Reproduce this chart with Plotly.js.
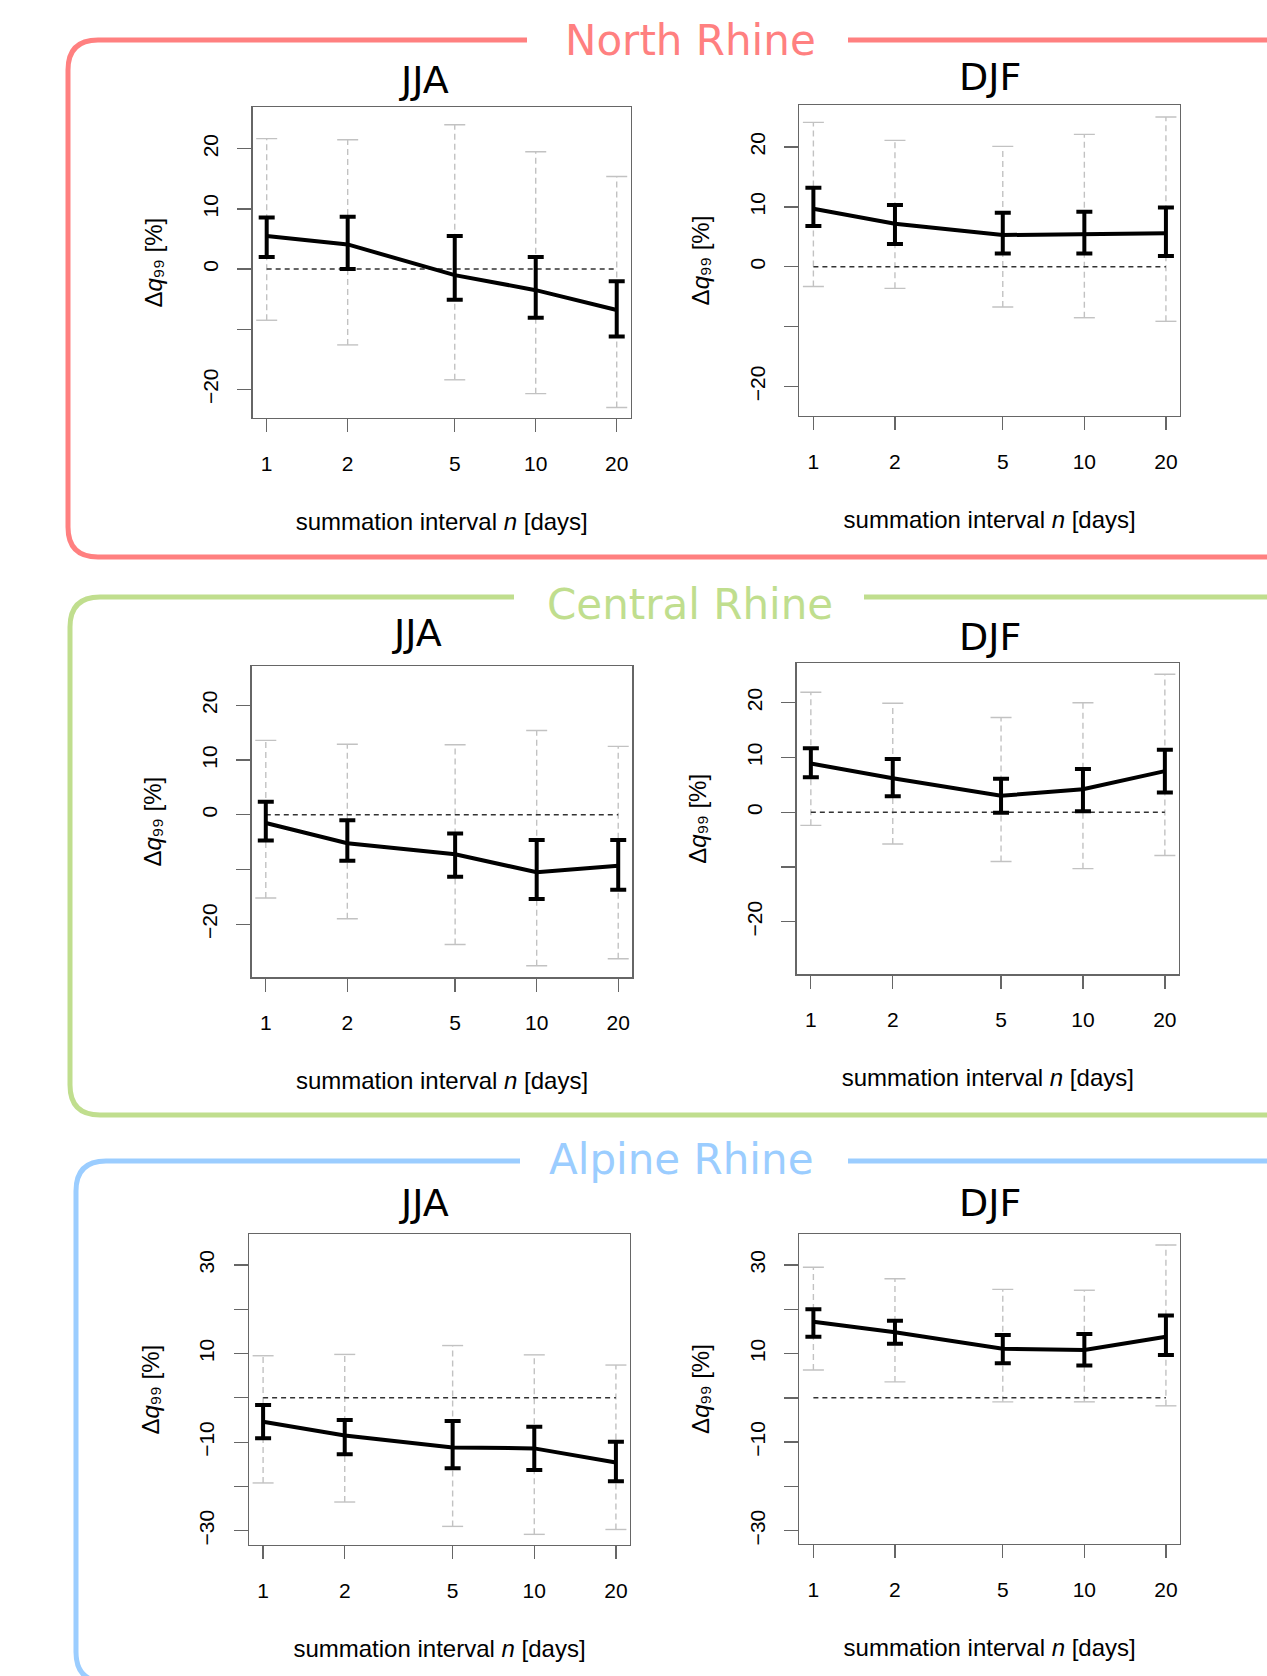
<!DOCTYPE html>
<html><head><meta charset="utf-8">
<script src="https://cdn.plot.ly/plotly-3.0.1.min.js"></script>
<style>html,body{margin:0;padding:0;background:#fff}</style>
</head><body><div id="chart" style="width:1267px;height:1676px"></div>
<script>
// ---------------- data ----------------
const intervals = [1, 2, 5, 10, 20];
const intervalLabels = ['1', '2', '5', '10', '20'];
const regionNames = ['North Rhine', 'Central Rhine', 'Alpine Rhine'];
const seasonNames = ['JJA', 'DJF'];
const yTitle = 'Δ<i>q</i>₉₉ [%]';
const xTitle = 'summation interval <i>n</i> [days]';

// North Rhine JJA
const northJJA_mean = [5.5, 4.1, -1.0, -3.5, -6.8];
const northJJA_lo = [2.0, 0.0, -5.1, -8.1, -11.2];
const northJJA_hi = [8.6, 8.7, 5.5, 2.0, -2.0];
const northJJA_outerLo = [-8.5, -12.6, -18.4, -20.7, -23.0];
const northJJA_outerHi = [21.7, 21.5, 24.0, 19.5, 15.4];
// North Rhine DJF
const northDJF_mean = [9.7, 7.2, 5.3, 5.4, 5.6];
const northDJF_lo = [6.8, 3.8, 2.2, 2.2, 1.8];
const northDJF_hi = [13.2, 10.3, 9.0, 9.2, 9.9];
const northDJF_outerLo = [-3.3, -3.6, -6.7, -8.5, -9.1];
const northDJF_outerHi = [24.1, 21.1, 20.1, 22.1, 25.0];
// Central Rhine JJA
const centralJJA_mean = [-1.5, -5.2, -7.2, -10.5, -9.3];
const centralJJA_lo = [-4.7, -8.4, -11.3, -15.4, -13.7];
const centralJJA_hi = [2.4, -1.0, -3.4, -4.6, -4.6];
const centralJJA_outerLo = [-15.2, -19.0, -23.7, -27.6, -26.3];
const centralJJA_outerHi = [13.6, 12.9, 12.8, 15.4, 12.5];
// Central Rhine DJF
const centralDJF_mean = [8.9, 6.2, 3.0, 4.2, 7.5];
const centralDJF_lo = [6.4, 2.9, -0.1, 0.2, 3.6];
const centralDJF_hi = [11.7, 9.7, 6.1, 7.9, 11.4];
const centralDJF_outerLo = [-2.4, -5.8, -9.0, -10.3, -7.9];
const centralDJF_outerHi = [21.9, 19.9, 17.3, 20.0, 25.2];
// Alpine Rhine JJA
const alpineJJA_mean = [-5.4, -8.5, -11.2, -11.4, -14.6];
const alpineJJA_lo = [-9.1, -12.7, -15.9, -16.3, -18.8];
const alpineJJA_hi = [-1.6, -5.0, -5.2, -6.5, -9.9];
const alpineJJA_outerLo = [-19.2, -23.5, -29.0, -30.8, -29.7];
const alpineJJA_outerHi = [9.5, 9.8, 11.8, 9.7, 7.4];
// Alpine Rhine DJF
const alpineDJF_mean = [17.2, 14.8, 11.1, 10.8, 13.8];
const alpineDJF_lo = [13.8, 12.2, 7.8, 7.3, 9.7];
const alpineDJF_hi = [20.0, 17.4, 14.2, 14.4, 18.6];
const alpineDJF_outerLo = [6.3, 3.6, -0.9, -0.9, -1.8];
const alpineDJF_outerHi = [29.5, 26.9, 24.5, 24.3, 34.5];

// y-axis ticks (labelled and unlabelled)
const yLabelled20 = [-20, 0, 10, 20];
const yLabelText20 = ['−20', '0', '10', '20'];
const yUnlabelled20 = [-10];
const yLabelled30 = [-30, -10, 10, 30];
const yLabelText30 = ['−30', '−10', '10', '30'];
const yUnlabelled30 = [-20, 0, 20];

// ---------------- layout helpers ----------------
const W = 1267, H = 1676;
const px = x => x / W;
const py = y => 1 - y / H;

const panels = [
  {mean: northJJA_mean, lo: northJJA_lo, hi: northJJA_hi, olo: northJJA_outerLo, ohi: northJJA_outerHi,
   box: [252.7, 630.7, 107.3, 418], yr: [-24.75, 26.9], tv: yLabelled20, tt: yLabelText20, tm: yUnlabelled20, title: seasonNames[0], tpos: [424, 80]},
  {mean: northDJF_mean, lo: northDJF_lo, hi: northDJF_hi, olo: northDJF_outerLo, ohi: northDJF_outerHi,
   box: [799.3, 1180, 105, 416], yr: [-24.9, 27.0], tv: yLabelled20, tt: yLabelText20, tm: yUnlabelled20, title: seasonNames[1], tpos: [990, 77]},
  {mean: centralJJA_mean, lo: centralJJA_lo, hi: centralJJA_hi, olo: centralJJA_outerLo, ohi: centralJJA_outerHi,
   box: [251.7, 632.3, 666, 977.3], yr: [-29.7, 27.2], tv: yLabelled20, tt: yLabelText20, tm: yUnlabelled20, title: seasonNames[0], tpos: [417, 633]},
  {mean: centralDJF_mean, lo: centralDJF_lo, hi: centralDJF_hi, olo: centralDJF_outerLo, ohi: centralDJF_outerHi,
   box: [796.7, 1179, 663.3, 974.3], yr: [-29.6, 27.2], tv: yLabelled20, tt: yLabelText20, tm: yUnlabelled20, title: seasonNames[1], tpos: [990, 637]},
  {mean: alpineJJA_mean, lo: alpineJJA_lo, hi: alpineJJA_hi, olo: alpineJJA_outerLo, ohi: alpineJJA_outerHi,
   box: [249, 630, 1234.3, 1545], yr: [-33.2, 36.9], tv: yLabelled30, tt: yLabelText30, tm: yUnlabelled30, title: seasonNames[0], tpos: [424, 1203]},
  {mean: alpineDJF_mean, lo: alpineDJF_lo, hi: alpineDJF_hi, olo: alpineDJF_outerLo, ohi: alpineDJF_outerHi,
   box: [799.3, 1180, 1234, 1544], yr: [-33.0, 37.0], tv: yLabelled30, tt: yLabelText30, tm: yUnlabelled30, title: seasonNames[1], tpos: [990, 1203]}
];

const tickFont = {family: 'Liberation Sans, Arial, sans-serif', size: 21, color: '#000'};
const labelFont = {family: 'Liberation Sans, Arial, sans-serif', size: 24, color: '#000'};
const axisColor = '#666';
const data = [];
const layout = {
  width: W, height: H,
  margin: {l: 0, r: 0, t: 0, b: 0},
  paper_bgcolor: '#fff', plot_bgcolor: '#fff',
  showlegend: false,
  annotations: [], shapes: []
};

panels.forEach((p, i) => {
  const n = i + 1;
  const xa = 'x' + (n === 1 ? '' : n), ya = 'y' + (n === 1 ? '' : n);
  const xk = 'xaxis' + (n === 1 ? '' : n), yk = 'yaxis' + (n === 1 ? '' : n);
  const [L, R, T, B] = p.box;

  // grey dashed outer ranges
  const gx = [], gy = [];
  intervals.forEach((x, j) => { gx.push(x, x, null); gy.push(p.olo[j], p.ohi[j], null); });
  data.push({type: 'scatter', x: gx, y: gy, xaxis: xa, yaxis: ya, mode: 'lines+markers',
    line: {color: '#c2c2c2', width: 1.4, dash: '6px,4px'},
    marker: {symbol: 'line-ew', size: 15, color: '#c2c2c2', line: {color: '#c2c2c2', width: 1.4}},
    hoverinfo: 'skip'});
  // zero reference line
  data.push({type: 'scatter', x: [intervals[0], intervals[intervals.length - 1]], y: [0, 0],
    xaxis: xa, yaxis: ya, mode: 'lines', line: {color: '#333', width: 1.5, dash: '5px,4px'}, hoverinfo: 'skip'});
  // mean line with error bars
  data.push({type: 'scatter', x: intervals, y: p.mean, xaxis: xa, yaxis: ya, mode: 'lines',
    line: {color: '#000', width: 4},
    error_y: {type: 'data', symmetric: false,
      array: p.hi.map((v, j) => v - p.mean[j]),
      arrayminus: p.mean.map((v, j) => v - p.lo[j]),
      color: '#000', thickness: 4, width: 8}});

  layout[xk] = {domain: [px(L), px(R)], anchor: ya, type: 'log', range: [-0.052, 1.353],
    tickmode: 'array', tickvals: intervals, ticktext: intervalLabels,
    ticks: 'outside', ticklen: 13, tickwidth: 1.3, tickcolor: axisColor,
    showline: true, mirror: true, linecolor: axisColor, linewidth: 1.3,
    showgrid: false, zeroline: false, tickfont: tickFont, ticklabelstandoff: 13, fixedrange: true,
    title: {text: xTitle, font: labelFont, standoff: 39}};
  layout[yk] = {domain: [py(B), py(T)], anchor: xa, range: p.yr,
    tickmode: 'array', tickvals: p.tv, ticktext: p.tt, tickangle: -90,
    ticks: 'outside', ticklen: 14, tickwidth: 1.3, tickcolor: axisColor,
    minor: {tickmode: 'array', tickvals: p.tm, ticks: 'outside', ticklen: 14, tickwidth: 1.3, tickcolor: axisColor, showgrid: false},
    showline: true, mirror: true, linecolor: axisColor, linewidth: 1.3,
    showgrid: false, zeroline: false, tickfont: tickFont, ticklabelstandoff: 11, fixedrange: true,
    title: {text: yTitle, font: labelFont, standoff: 29}};

  // panel title
  layout.annotations.push({text: p.title, xref: 'paper', yref: 'paper', x: px(p.tpos[0]), y: py(p.tpos[1]),
    xanchor: 'center', yanchor: 'middle', showarrow: false,
    font: {family: 'DejaVu Sans, sans-serif', size: 38, color: '#000'}});
});

// ---------------- region frames ----------------
const frames = [
  {name: regionNames[0], color: 'rgb(255,128,128)', left: 68, top: 40, bottom: 557, gap: [527, 848], tx: 690, ty: 40},
  {name: regionNames[1], color: 'rgb(192,222,142)', left: 70, top: 597, bottom: 1115, gap: [514, 864], tx: 690, ty: 604},
  {name: regionNames[2], color: 'rgb(155,205,255)', left: 76, top: 1161, bottom: 1682, gap: [520, 848], tx: 681, ty: 1159}
];
const r = 30;
frames.forEach(f => {
  const P = (x, y) => px(x).toFixed(5) + ',' + py(y).toFixed(5);
  const path1 = 'M' + P(f.gap[0], f.top) + ' L' + P(f.left + r, f.top) +
    ' Q' + P(f.left, f.top) + ' ' + P(f.left, f.top + r) +
    ' L' + P(f.left, f.bottom - r) +
    ' Q' + P(f.left, f.bottom) + ' ' + P(f.left + r, f.bottom) +
    ' L' + P(1300, f.bottom);
  const path2 = 'M' + P(f.gap[1], f.top) + ' L' + P(1300, f.top);
  [path1, path2].forEach(pp => layout.shapes.push({type: 'path', xref: 'paper', yref: 'paper', path: pp,
    line: {color: f.color, width: 5}, layer: 'below'}));
  layout.annotations.push({text: f.name, xref: 'paper', yref: 'paper', x: px(f.tx), y: py(f.ty),
    xanchor: 'center', yanchor: 'middle', showarrow: false,
    font: {family: 'DejaVu Sans, sans-serif', size: 42, color: f.color}});
});

Plotly.newPlot('chart', data, layout, {staticPlot: true, displayModeBar: false});
</script>
</body></html>
